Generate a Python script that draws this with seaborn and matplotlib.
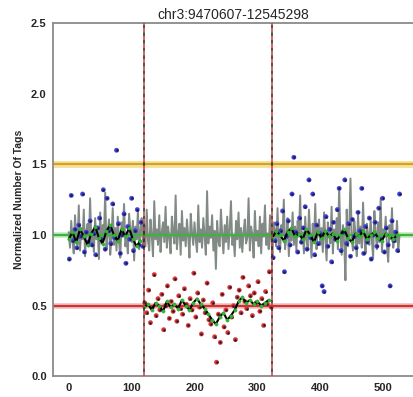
import matplotlib
matplotlib.use('Agg')
import matplotlib.pyplot as plt
import numpy as np
import pandas as pd
import seaborn as sns

# Chart values, in units of 1/100
title = 'chr3:9470607-12545298'
breakpoints = [120, 323]
ref_levels = {'gain': 1.5, 'normal': 1.0, 'loss': 0.5}

# grey noisy control track, one value every 2 bins starting at bin 0
control = [102, 91, 110, 96, 87, 114, 99, 93, 121, 89, 105, 97, 118, 85, 103, 108, 92, 126, 95, 101,
           88, 112, 97, 104, 83, 116, 94, 107, 99, 130, 90, 102, 111, 86, 98, 119, 93, 105, 89, 113,
           96, 84, 109, 101, 122, 92, 98, 87, 115, 104, 95, 110, 82, 106, 97, 117, 90, 103, 112, 94,
           107, 92, 118, 96, 89, 111, 100, 85, 124, 97, 104, 93, 114, 88, 102, 109, 95, 120, 91, 106,
           98, 87, 113, 103, 94, 128, 90, 101, 108, 86, 117, 96, 105, 92, 111, 99, 84, 115, 102, 93,
           109, 97, 88, 121, 95, 104, 91, 112, 100, 86, 131, 94, 106, 98, 114, 89, 103, 76, 110, 96,
           92, 118, 101, 87, 107, 95, 113, 90, 104, 124, 93, 99, 85, 110, 97, 116, 91, 105, 88, 102,
           111, 94, 98, 126, 89, 106, 100, 84, 117, 96, 103, 92, 113, 87, 108, 99, 121, 93, 101, 90,
           114, 97, 86, 109, 103, 92, 119, 95, 88, 107, 101, 125, 90, 98, 112, 85, 104, 96, 116, 93,
           106, 89, 110, 99, 128, 94, 102, 87, 113, 97, 91, 118, 100, 84, 108, 95, 122, 90, 103, 111,
           93, 105, 88, 116, 98, 82, 109, 101, 94, 120, 87, 104, 96, 112, 90, 134, 99, 86, 107, 95,
           68, 118, 92, 103, 140, 97, 89, 110, 101, 85, 115, 94, 106, 91, 123, 98, 87, 108, 100, 93,
           112, 96, 84, 117, 102, 90, 109, 95, 126, 88, 104, 99, 113, 92, 81, 107, 97, 119, 91, 103,
           95, 110, 89, 100]

# sample bins, one value every 3 bins starting at bin 1
sample = [83, 128, 96, 104, 91, 107, 99, 129, 88, 102, 95, 110, 93, 101, 86, 105, 112, 97, 132, 90,
          126, 103, 94, 122, 98, 160, 108, 87, 100, 115, 80, 106, 97, 126, 89, 103, 118, 93, 109, 92,
          52, 45, 61, 38, 49, 72, 43, 55, 47, 58, 33, 50, 64, 41, 53, 46, 69, 39, 57, 48,
          44, 62, 51, 36, 55, 47, 73, 42, 59, 49, 30, 54, 45, 66, 40, 37, 52, 28, 10, 44,
          24, 58, 35, 47, 31, 63, 42, 50, 26, 56, 61, 45, 70, 53, 48, 64, 57, 43, 59, 52,
          67, 46, 55, 36, 60, 51, 74, 49,
          84, 96, 108, 91, 103, 117, 74, 99, 110, 93, 129, 155, 102, 88, 112, 95, 105, 120, 90, 139,
          98, 129, 86, 107, 94, 101, 64, 60, 113, 92, 104, 81, 109, 97, 118, 133, 89, 102, 139, 94,
          108, 85, 111, 99, 91, 116, 103, 133, 87, 106, 95, 112, 83, 100, 109, 92, 119, 97, 126, 88,
          105, 93, 64, 110, 96, 102, 89, 129]

# smoothed segments, one value every 6 bins
smooth_left = [97, 102, 95, 104, 99, 93, 101, 106, 98, 94, 103, 107, 100, 96, 104, 99, 105, 97, 92, 96]
smooth_mid = [49, 51, 47, 52, 50, 46, 53, 49, 51, 48, 54, 50, 47, 52, 55, 51, 48, 44, 40, 37,
              42, 45, 40, 43, 47, 53, 56, 52, 54, 51, 53, 50, 52, 54]
smooth_right = [98, 103, 100, 96, 102, 105, 99, 101, 97, 104, 100, 95, 102, 98, 103, 99, 101, 96, 100, 104,
                98, 95, 101, 99, 103, 97, 100, 102, 98, 96, 101, 99, 97, 100]

x_ticks = [0, 100, 200, 300, 400, 500]
y_ticks = [0.0, 0.5, 1.0, 1.5, 2.0, 2.5]

df_ctrl = pd.DataFrame({'bin': np.arange(len(control)) * 2, 'value': np.array(control) / 100})
df_smp = pd.DataFrame({'bin': np.arange(len(sample)) * 3 + 1, 'value': np.array(sample) / 100})
df_smp['state'] = np.where((df_smp['bin'] > breakpoints[0]) & (df_smp['bin'] < breakpoints[1]), 'loss', 'normal')

seg_starts = [0, breakpoints[0], breakpoints[1] + 1]
segs = []
for start, vals in zip(seg_starts, [smooth_left, smooth_mid, smooth_right]):
    segs.append(pd.DataFrame({'bin': start + np.arange(len(vals)) * 6, 'value': np.array(vals) / 100}))

sns.set_style('white')
plt.rcParams['font.family'] = ['Liberation Sans', 'DejaVu Sans']

fig = plt.figure(figsize=(4.14, 3.97), dpi=100)
ax = fig.add_axes([0.128, 0.052, 0.872, 0.890])

# reference levels with a soft halo
ax.axhline(ref_levels['gain'], color='#f3e3a0', lw=5, zorder=1)
ax.axhline(ref_levels['gain'], color='#d9a21e', lw=1.6, zorder=2)
ax.axhline(ref_levels['normal'], color='#bfe8bf', lw=4, zorder=1)
ax.axhline(ref_levels['normal'], color='#3db33d', lw=1.6, zorder=4)
ax.axhline(ref_levels['loss'], color='#f0c0c0', lw=4, zorder=1)
ax.axhline(ref_levels['loss'], color='#cc3333', lw=1.6, zorder=2)

sns.lineplot(data=df_ctrl, x='bin', y='value', ax=ax, color='#7a847e', lw=1.4,
             estimator=None, alpha=0.95, zorder=3)

sns.scatterplot(data=df_smp, x='bin', y='value', hue='state', ax=ax,
                palette={'normal': '#3b3bd6', 'loss': '#d93030'}, s=10,
                edgecolor=None, legend=False, zorder=5)
sns.scatterplot(data=df_smp, x='bin', y='value', ax=ax, color='#1c1c2c', s=2.5,
                edgecolor=None, legend=False, zorder=6)

for seg in segs:
    sns.lineplot(data=seg, x='bin', y='value', ax=ax, color='black', lw=1.5,
                 estimator=None, zorder=7)
    sns.scatterplot(data=seg, x='bin', y='value', ax=ax, color='#2fb52f', s=6,
                    edgecolor=None, legend=False, zorder=8)

for b in breakpoints:
    ax.axvline(b, color='#e03030', lw=1.1, ls=(0, (2.5, 2.5)), zorder=9)
    ax.axvline(b, color='#222222', lw=1.1, ls=(2.5, (2.5, 2.5)), zorder=9)

ax.set_xlim(-25, 549)
ax.set_ylim(0, 2.5)
ax.set_xticks(x_ticks)
ax.set_yticks(y_ticks)
ax.set_yticklabels([f'{v:.1f}' for v in y_ticks])
ax.tick_params(axis='both', length=3, width=1, color='#888888', labelsize=8, pad=1.5)
for lab in ax.get_xticklabels() + ax.get_yticklabels():
    lab.set_fontweight('bold')
ax.set_xlabel('')
ax.set_ylabel('Normalized Number Of Tags', fontsize=7.5, fontweight='bold', labelpad=5)
ax.set_title(title, fontsize=10, pad=3)

for side in ['left', 'top', 'bottom']:
    ax.spines[side].set_color('#8a8a8a')
    ax.spines[side].set_linewidth(1.3)
ax.spines['right'].set_visible(False)

fig.savefig('out.png', dpi=100)
